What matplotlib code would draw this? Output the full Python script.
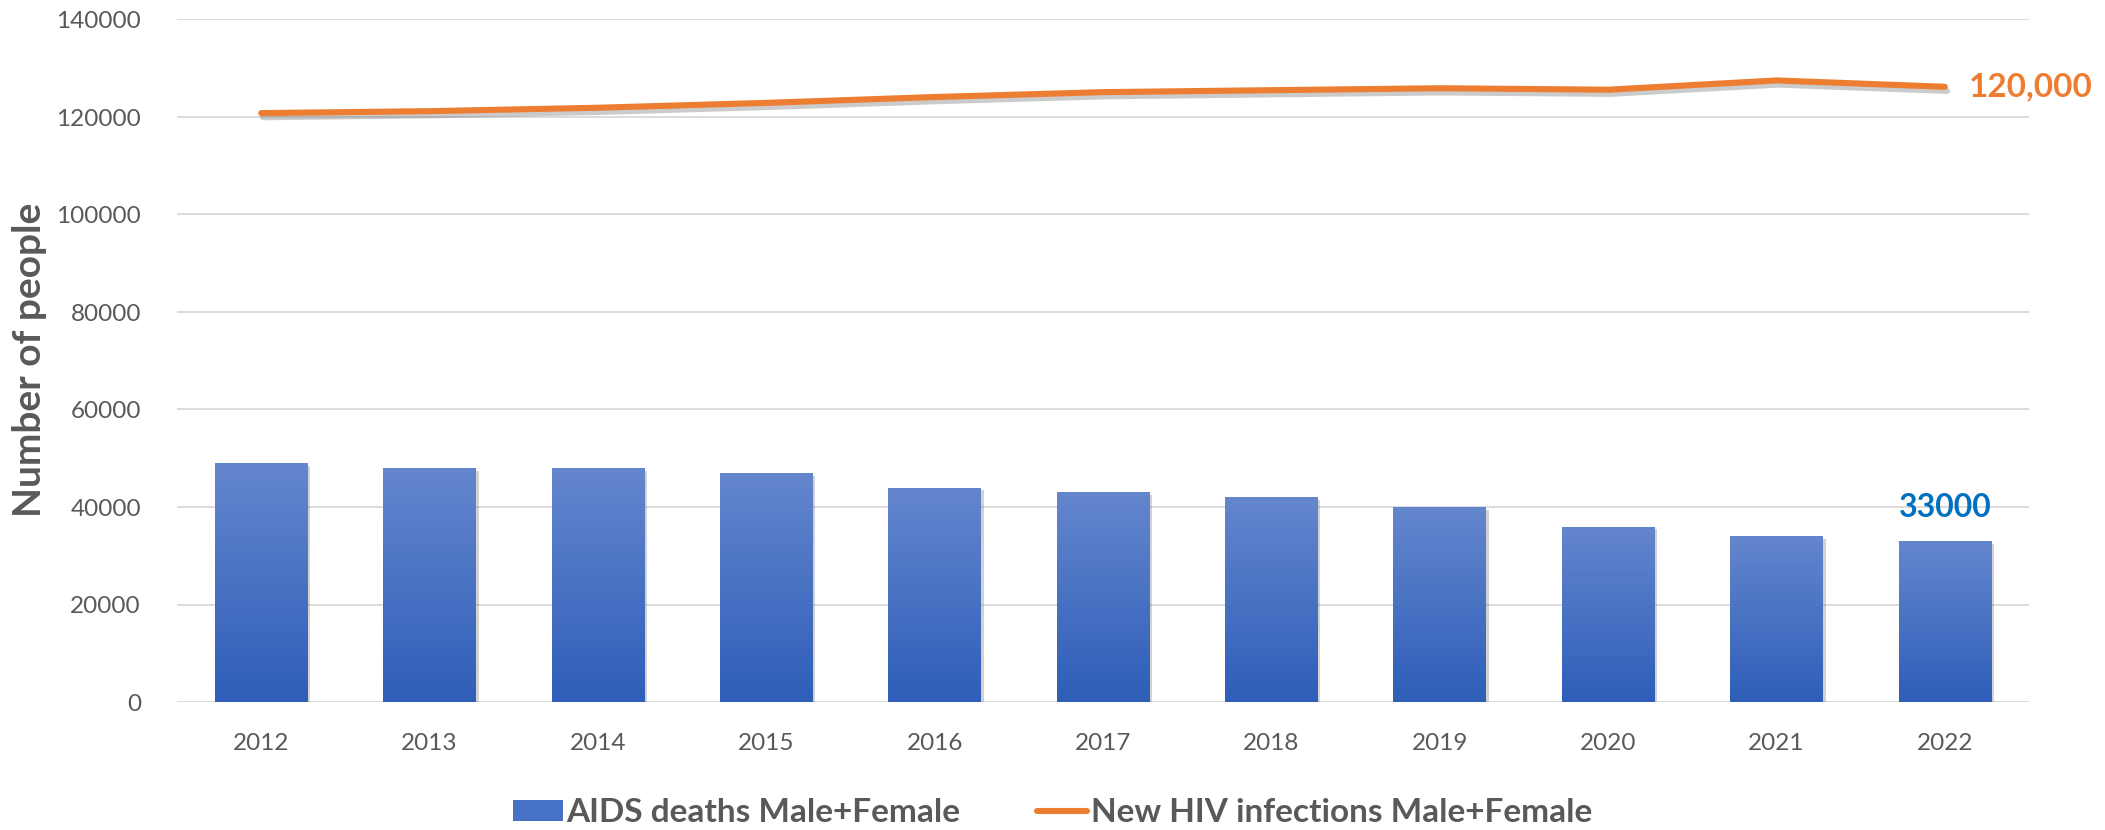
import numpy as np
import matplotlib
matplotlib.use("Agg")
import matplotlib.pyplot as plt
import matplotlib.patheffects as pe
from matplotlib.patches import Patch
from matplotlib.lines import Line2D
from matplotlib.colors import LinearSegmentedColormap

years = ["2012", "2013", "2014", "2015", "2016", "2017", "2018", "2019", "2020", "2021", "2022"]
aids_deaths = [49000, 48000, 48000, 47000, 44000, 43000, 42000, 40000, 36000, 34000, 33000]
new_infections = [120800, 121200, 121900, 122900, 124100, 125100, 125500, 125900, 125600, 127500, 126200]
yticks = [0, 20000, 40000, 60000, 80000, 100000, 120000, 140000]
bar_label = "33000"
line_label = "120,000"
bar_name = "AIDS deaths Male+Female"
line_name = "New HIV infections Male+Female"
ylabel = "Number of people"

GRAY = "#595959"
BLUE_TOP = "#6486CE"
BLUE_BOT = "#2E5EB8"
ORANGE = "#ED7D31"

plt.rcParams['font.family'] = ['Lato', 'DejaVu Sans']

fig = plt.figure(figsize=(21.05, 8.3), dpi=100)
ax = fig.add_axes([177/2105, 1-702/830, (2029-177)/2105, (702-19.5)/830])

x = np.arange(len(years))
width = 0.55
bars = ax.bar(x, aids_deaths, width, color=BLUE_BOT, zorder=2,
              path_effects=[pe.SimplePatchShadow(offset=(2, -2), shadow_rgbFace='gray', alpha=0.35), pe.Normal()])

cmap = LinearSegmentedColormap.from_list("g", [BLUE_BOT, BLUE_TOP])
grad = np.linspace(0, 1, 256).reshape(-1, 1)
for b in bars:
    x0, y0 = b.get_x(), b.get_y()
    w, h = b.get_width(), b.get_height()
    im = ax.imshow(grad, cmap=cmap, origin='lower', aspect='auto',
                   extent=(x0, x0 + w, y0, y0 + h), zorder=3)
    im.set_clip_path(b)

ax.plot(x, new_infections, color=ORANGE, lw=4.4, solid_capstyle='round', solid_joinstyle='round', zorder=4,
        path_effects=[pe.SimpleLineShadow(offset=(1.5, -3), shadow_color='#555555', alpha=0.3), pe.Normal()])

ax.set_xlim(-0.5, len(years) - 0.5)
ax.set_ylim(0, 140000)
ax.set_yticks(yticks)
ax.set_yticklabels([str(v) for v in yticks])
ax.set_xticks(x)
ax.set_xticklabels(years)
ax.tick_params(axis='both', length=0, labelsize=17.5, labelcolor=GRAY)
ax.tick_params(axis='y', pad=26)
ax.tick_params(axis='x', pad=22)
for s in ax.spines.values():
    s.set_visible(False)
ax.yaxis.grid(True, color='#D9D9D9', lw=1.3, zorder=0)
ax.set_axisbelow(True)
ax.set_autoscale_on(False)

fig.text(30/2105, 1-360/830, ylabel, rotation=90, ha='center', va='center',
         fontsize=28, fontweight='bold', color=GRAY)

ax.text(x[-1], aids_deaths[-1] + 4000, bar_label, ha='center', va='bottom',
        fontsize=23, fontweight='bold', color='#0070C0')
ax.annotate(line_label, xy=(x[-1], new_infections[-1]), xytext=(17, 0), textcoords='offset points',
            ha='left', va='center', fontsize=24, fontweight='bold', color=ORANGE)

handles = [Patch(facecolor='#4673C6', edgecolor='none'),
           Line2D([0], [0], color=ORANGE, lw=4.4, solid_capstyle='round')]
fig.legend(handles, [bar_name, line_name], loc='center', bbox_to_anchor=(0.5, 0.021), ncol=2,
           frameon=False, handlelength=1.5, handleheight=0.6, handletextpad=0.12,
           columnspacing=2.3, labelcolor=GRAY, prop={'size': 24, 'weight': 'bold'})

fig.savefig("out.png", dpi=100)
